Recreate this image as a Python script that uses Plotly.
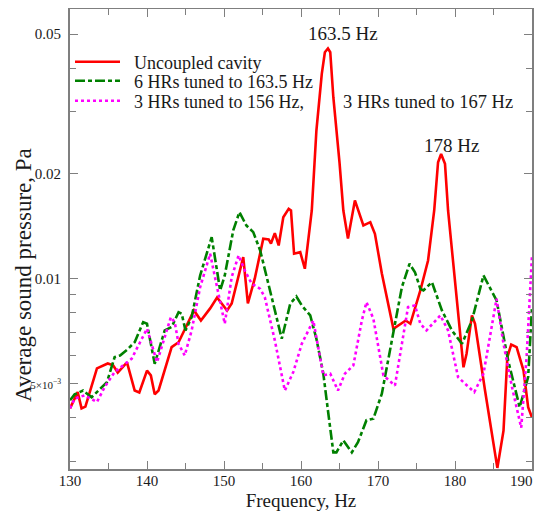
import plotly.graph_objects as go

# frequency (Hz) and average sound pressure (Pa)
freq_uncoupled = [130.0, 131.0, 131.5, 132.0, 133.5, 134.9, 135.6, 136.2, 137.4, 138.4, 139.0, 140.0,
                  140.5, 141.0, 141.5, 143.2, 144.1, 145.6, 146.1, 147.0, 148.2, 149.1, 150.4, 151.0,
                  152.5, 153.1, 154.0, 155.1, 155.8, 156.1, 156.6, 157.1, 157.7, 158.4, 158.7, 159.1,
                  159.9, 160.5, 160.9, 161.4, 162.0, 162.7, 163.1, 163.5, 163.8, 164.2, 165.0, 165.5,
                  166.1, 167.0, 168.1, 169.0, 169.6, 170.5, 172.0, 172.9, 173.6, 174.2, 175.5, 176.5,
                  177.3, 177.8, 178.2, 178.7, 179.1, 181.1, 181.5, 182.2, 182.6, 183.9, 185.5, 186.3,
                  186.8, 187.3, 188.0, 188.9, 189.5, 190.0]
p_uncoupled = [0.00425, 0.00473, 0.00425, 0.0043, 0.00553, 0.00571, 0.00564, 0.00538, 0.00575, 0.00478,
               0.00472, 0.00545, 0.00528, 0.00466, 0.00478, 0.00636, 0.00657, 0.00775, 0.0081, 0.00758,
               0.00821, 0.00882, 0.0081, 0.00848, 0.01151, 0.00848, 0.0100, 0.0130, 0.01293, 0.01259,
               0.01348, 0.01243, 0.01497, 0.01582, 0.01565, 0.01177, 0.01189, 0.01066, 0.01285, 0.01565,
               0.0265, 0.0385, 0.0444, 0.0455, 0.0444, 0.033, 0.0215, 0.01565, 0.0130, 0.01672,
               0.01418, 0.01449, 0.01342, 0.01033, 0.00718, 0.00742, 0.00758, 0.00742, 0.00924, 0.01126,
               0.01565, 0.0215, 0.0227, 0.0213, 0.01565, 0.00557, 0.00609, 0.00784, 0.00742, 0.00478,
               0.00287, 0.00367, 0.00596, 0.00647, 0.00636, 0.00545, 0.00428, 0.0040]

freq_six = [130.0, 130.6, 131.7, 132.8, 133.7, 134.8, 135.8, 136.5, 137.4, 138.4, 139.5, 140.0, 141.0,
            142.3, 143.2, 144.1, 144.5, 145.0, 145.8, 146.9, 148.4, 149.5, 150.1, 151.2, 152.0, 152.9,
            153.8, 154.7, 156.4, 157.5, 158.6, 159.4, 160.1, 161.2, 162.0, 162.9, 163.5, 164.2, 164.6,
            165.5, 166.6, 167.4, 168.5, 169.4, 170.5, 172.0, 173.1, 174.1, 174.8, 175.5, 175.9, 177.0,
            178.3, 179.6, 180.9, 182.2, 183.7, 185.4, 186.9, 188.4, 189.5, 190.0]
p_six = [0.00448, 0.00466, 0.00478, 0.00457, 0.00478, 0.00505, 0.00596, 0.00602, 0.00625, 0.00657,
         0.0075, 0.00742, 0.0057, 0.0071, 0.00726, 0.00801, 0.00793, 0.0071, 0.00775, 0.0102, 0.01313,
         0.00924, 0.0102, 0.01372, 0.01548, 0.01418, 0.01357, 0.01202, 0.00846, 0.00672, 0.00846,
         0.00888, 0.00837, 0.00784, 0.00672, 0.00534, 0.00419, 0.00318, 0.00318, 0.00344, 0.00318,
         0.0034, 0.00393, 0.00397, 0.00468, 0.0071, 0.00944, 0.01102, 0.01042, 0.00934, 0.00924,
         0.00976, 0.0081, 0.0071, 0.0065, 0.00758, 0.0102, 0.00865, 0.00583, 0.00428, 0.00522, 0.00828]

freq_split = [130.0, 130.6, 131.9, 133.5, 134.5, 135.8, 136.9, 138.0, 139.1, 140.0, 141.3, 142.3, 143.1,
              143.6, 144.1, 144.9, 145.8, 146.9, 148.2, 149.1, 150.1, 151.0, 151.9, 152.7, 153.6, 154.7,
              155.3, 156.6, 157.9, 159.0, 160.1, 161.6, 162.9, 163.8, 164.8, 165.7, 166.8, 167.9, 168.5,
              169.4, 170.7, 172.2, 173.3, 173.9, 174.8, 175.5, 176.3, 178.1, 179.1, 180.4, 181.3, 182.5,
              183.7, 185.4, 186.3, 187.4, 188.6, 189.3, 190.0]
p_split = [0.00425, 0.00453, 0.00463, 0.00443, 0.00489, 0.0054, 0.00564, 0.00589, 0.00657, 0.00718,
           0.00576, 0.00679, 0.00775, 0.0075, 0.0065, 0.00602, 0.0071, 0.00944, 0.01177, 0.00944,
           0.00742, 0.0101, 0.01164, 0.01054, 0.00966, 0.00934, 0.00884, 0.00665, 0.00478, 0.0054,
           0.0065, 0.00758, 0.00528, 0.00534, 0.00478, 0.00534, 0.00564, 0.00758, 0.00855, 0.00767,
           0.00528, 0.00494, 0.00695, 0.00828, 0.00837, 0.00742, 0.0071, 0.00784, 0.0071, 0.00522,
           0.0050, 0.00473, 0.00534, 0.00875, 0.0065, 0.00489, 0.00374, 0.00596, 0.01164]

x_ticks = [130, 140, 150, 160, 170, 180, 190]
# the last label is drawn separately, right-aligned, so it stays inside the page
x_tick_text = ["130", "140", "150", "160", "170", "180", ""]
x_minor = [135, 145, 155, 165, 175, 185]
y_ticks = [0.005, 0.01, 0.02, 0.05]
y_tick_text = ['<span style="font-size:11px">5×10<sup>−3</sup></span>', "0.01", "0.02", "0.05"]
y_minor = [0.003, 0.004, 0.006, 0.007, 0.008, 0.009, 0.03, 0.04]

serif = "Liberation Serif"
frame = "#7f7f7f"
nb = "\u00a0\u00a0"

fig = go.Figure()
fig.add_trace(go.Scatter(x=freq_uncoupled, y=p_uncoupled, mode="lines", name=nb + "Uncoupled cavity",
                         line=dict(color="#ff0000", width=2.6), legend="legend"))
fig.add_trace(go.Scatter(x=freq_six, y=p_six, mode="lines", name=nb + "6 HRs tuned to 163.5 Hz",
                         line=dict(color="#008000", width=2.6, dash="10px,3px,4px,3px"), legend="legend2"))
fig.add_trace(go.Scatter(x=freq_split, y=p_split, mode="lines", name=nb + "3 HRs tuned to 156 Hz,",
                         line=dict(color="#ff00ff", width=2.6, dash="dot"), legend="legend3"))

fig.add_annotation(x=165.4, y=-1.298, text="163.5 Hz", showarrow=False, font=dict(size=19))
fig.add_annotation(x=179.5, y=-1.62, text="178 Hz", showarrow=False, font=dict(size=19))
fig.add_annotation(x=165.2, y=-1.496, text="3 HRs tuned to 167 Hz", showarrow=False,
                   xanchor="left", font=dict(size=18.5))
fig.add_annotation(x=x_ticks[-1], xref="x", y=0, yref="paper", yanchor="middle", yshift=-12,
                   xanchor="right", xshift=3, text=str(x_ticks[-1]), showarrow=False,
                   font=dict(size=15))
fig.add_annotation(xref="paper", yref="paper", x=0, xshift=-47, y=0.4217, textangle=-90,
                   xanchor="center", yanchor="middle", borderpad=0,
                   text="Average sound pressure, Pa", showarrow=False, font=dict(size=23))

fig.update_xaxes(range=[130, 190], tickvals=x_ticks, ticktext=x_tick_text, automargin=False,
                 ticklabeloverflow="allow",
                 ticks="inside", ticklen=8, tickcolor=frame, tickwidth=1.3, ticklabelstandoff=-3,
                 minor=dict(tickvals=x_minor, ticks="inside", ticklen=6, tickcolor=frame, tickwidth=1.3),
                 showline=True, linecolor=frame, linewidth=1.8, mirror="ticks",
                 showgrid=False, zeroline=False, tickfont=dict(size=15),
                 title=dict(text="Frequency, Hz", font=dict(size=19), standoff=11))
fig.update_yaxes(type="log", range=[-2.5452, -1.2290], tickvals=y_ticks, ticktext=y_tick_text,
                 automargin=False, ticklabeloverflow="allow",
                 ticks="inside", ticklen=8, tickcolor=frame, tickwidth=1.3, ticklabelstandoff=4,
                 minor=dict(tickvals=y_minor, ticks="inside", ticklen=6, tickcolor=frame, tickwidth=1.3),
                 showline=True, linecolor=frame, linewidth=1.8, mirror="ticks",
                 showgrid=False, zeroline=False, tickfont=dict(size=15))

legend_style = dict(x=0.0, xanchor="left", yanchor="middle", bgcolor="rgba(0,0,0,0)",
                    font=dict(size=18), itemwidth=45)
fig.update_layout(
    # the page body adds an 8px offset; the height is kept so the page does not scroll
    width=543, height=503,
    margin=dict(l=62, r=19, t=1, b=42),
    font=dict(family=serif, color="#1a1a1a"),
    paper_bgcolor="white", plot_bgcolor="white",
    showlegend=True,
    legend=dict(y=0.8848, **legend_style),
    legend2=dict(y=0.8435, **legend_style),
    legend3=dict(y=0.80, **legend_style),
)

fig.write_html("out.html")
